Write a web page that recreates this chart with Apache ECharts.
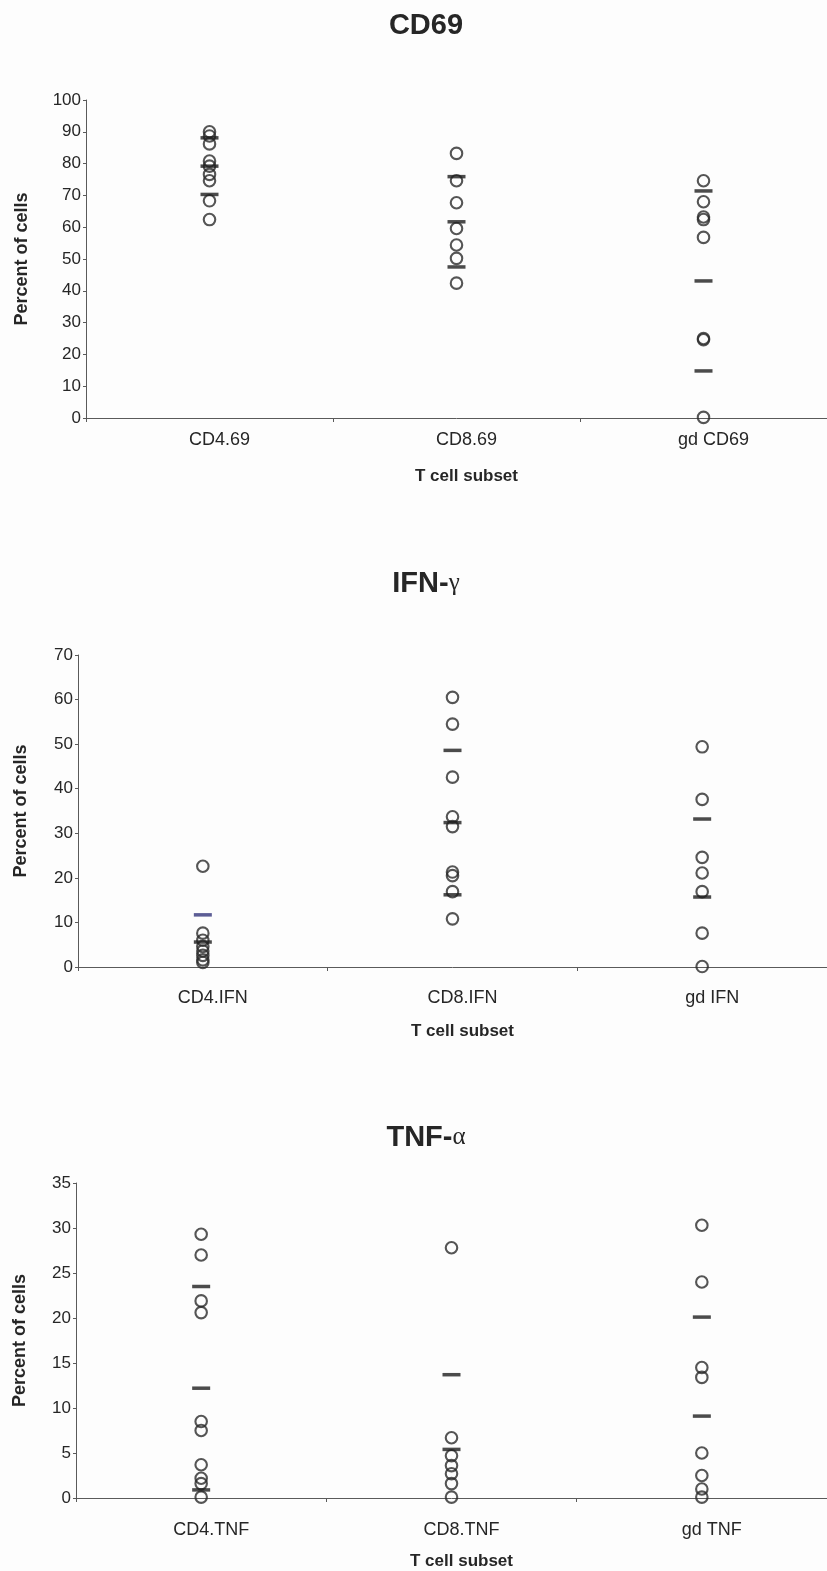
<!DOCTYPE html>
<html>
<head>
<meta charset="utf-8">
<script src="https://cdn.jsdelivr.net/npm/echarts@6/dist/echarts.min.js"></script>
<style>
  html, body { margin: 0; padding: 0; background: #fdfdfd; }
  #chart { width: 827px; height: 1571px; }
</style>
</head>
<body>
<div id="chart"></div>
<script>
// ---- CD69 ----
const cd69Categories = ['CD4.69', 'CD8.69', 'gd CD69'];
const cd69Values = [
  [90.0, 88.7, 86.2, 80.8, 79.2, 76.6, 74.6, 68.3, 62.4],
  [83.2, 74.6, 67.7, 59.6, 54.4, 50.2, 42.4],
  [74.6, 68.0, 63.2, 62.4, 56.8, 25.0, 24.6, 0.2]
];
const cd69Means = [79.2, 61.7, 43.1];
const cd69Sds = [8.9, 14.2, 28.3];
const cd69Ticks = [0, 100, 10];

// ---- IFN-gamma ----
const ifnCategories = ['CD4.IFN', 'CD8.IFN', 'gd IFN'];
const ifnValues = [
  [22.6, 7.6, 6.0, 4.6, 3.6, 2.6, 1.6, 1.0],
  [60.5, 54.5, 42.6, 33.7, 31.5, 21.3, 20.5, 16.9, 10.8],
  [49.4, 37.6, 24.6, 21.1, 16.9, 7.6, 0.1]
];
const ifnMeans = [5.6, 32.4, 15.7];
const ifnSds = [6.1, 16.2, 17.5];
const ifnTicks = [0, 70, 10];

// ---- TNF-alpha ----
const tnfCategories = ['CD4.TNF', 'CD8.TNF', 'gd TNF'];
const tnfValues = [
  [29.3, 27.0, 21.9, 20.6, 8.5, 7.5, 3.7, 2.2, 1.6, 0.1],
  [27.8, 6.7, 4.7, 3.6, 2.7, 1.6, 0.1],
  [30.3, 24.0, 14.5, 13.4, 5.0, 2.5, 1.0, 0.1]
];
const tnfMeans = [12.2, 5.4, 9.1];
const tnfSds = [11.3, 8.3, 11.0];
const tnfTicks = [0, 35, 5];

const xAxisName = 'T cell subset';
const yAxisName = 'Percent of cells';

// Layout and styling for each of the three stacked plots
const panels = [
  {
    title: '{b|CD69}', titleTop: 6,
    cats: cd69Categories, values: cd69Values, means: cd69Means, sds: cd69Sds, ticks: cd69Ticks,
    grid: { left: 86, top: 100, width: 741, height: 318 },
    labelMargin: 13, xNameGap: 50, yNameGap: 55, barColors: [null, null, null]
  },
  {
    title: '{b|IFN-}{g|\u03b3}', titleTop: 564,
    cats: ifnCategories, values: ifnValues, means: ifnMeans, sds: ifnSds, ticks: ifnTicks,
    grid: { left: 78, top: 655, width: 754, height: 312 },
    labelMargin: 22, xNameGap: 56, yNameGap: 48, barColors: ['#33357a', null, null]
  },
  {
    title: '{b|TNF-}{g|\u03b1}', titleTop: 1118,
    cats: tnfCategories, values: tnfValues, means: tnfMeans, sds: tnfSds, ticks: tnfTicks,
    grid: { left: 76, top: 1183, width: 756, height: 316 },
    labelMargin: 23, xNameGap: 55, yNameGap: 47, barColors: [null, null, null]
  }
];

const textColor = '#262626';
const axisColor = '#5a5a5a';
const sans = 'Liberation Sans, Arial, sans-serif';

const option = {
  animation: false,
  backgroundColor: '#fdfdfd',
  title: [],
  grid: [],
  xAxis: [],
  yAxis: [],
  series: []
};

panels.forEach((p, i) => {
  option.title.push({
    text: p.title,
    left: 421,
    top: p.titleTop,
    textAlign: 'center',
    textStyle: {
      rich: {
        b: { fontFamily: sans, fontWeight: 'bold', fontSize: 29, color: textColor },
        g: { fontFamily: 'Liberation Serif, DejaVu Serif, serif', fontWeight: 'normal', fontSize: 25, color: textColor }
      }
    }
  });

  option.grid.push(Object.assign({ containLabel: false }, p.grid));

  option.xAxis.push({
    type: 'category',
    gridIndex: i,
    data: p.cats,
    boundaryGap: true,
    name: xAxisName,
    nameLocation: 'middle',
    nameGap: p.xNameGap,
    nameTextStyle: { fontFamily: sans, fontWeight: 'bold', fontSize: 17, color: textColor, padding: [0, 0, 0, 20] },
    axisLine: { show: true, lineStyle: { color: axisColor, width: 1 } },
    axisTick: { show: true, length: 4, alignWithLabel: false, lineStyle: { color: axisColor } },
    axisLabel: { fontFamily: sans, fontSize: 18, color: textColor, margin: p.labelMargin, padding: [0, 0, 0, 20] },
    splitLine: { show: false }
  });

  option.yAxis.push({
    type: 'value',
    gridIndex: i,
    min: p.ticks[0],
    max: p.ticks[1],
    interval: p.ticks[2],
    name: yAxisName,
    nameLocation: 'middle',
    nameGap: p.yNameGap,
    nameTextStyle: { fontFamily: sans, fontWeight: 'bold', fontSize: 18, color: textColor },
    axisLine: { show: true, lineStyle: { color: axisColor, width: 1 } },
    axisTick: { show: true, length: 3, lineStyle: { color: axisColor } },
    axisLabel: { fontFamily: sans, fontSize: 17, color: textColor, margin: 5 },
    splitLine: { show: false }
  });

  // individual donors: open circles
  const points = [];
  p.values.forEach((vals, c) => vals.forEach(v => points.push([p.cats[c], v])));
  option.series.push({
    type: 'scatter',
    xAxisIndex: i,
    yAxisIndex: i,
    symbol: 'circle',
    symbolSize: 11.5,
    clip: false,
    data: points,
    itemStyle: { color: 'rgba(0,0,0,0)', borderColor: '#2a2a2a', borderWidth: 2.1 },
    z: 3
  });

  // group mean and mean +/- SD as short horizontal dashes
  const dashes = [];
  p.means.forEach((m, c) => {
    [m + p.sds[c], m, m - p.sds[c]].forEach((lvl, k) => {
      if (lvl < 0) return;
      const item = { value: [p.cats[c], +lvl.toFixed(2)] };
      if (k === 0 && p.barColors[c]) item.itemStyle = { color: p.barColors[c] };
      dashes.push(item);
    });
  });
  option.series.push({
    type: 'scatter',
    xAxisIndex: i,
    yAxisIndex: i,
    symbol: 'rect',
    symbolSize: [18, 3.5],
    data: dashes,
    itemStyle: { color: '#1e1e1e' },
    z: 4
  });
});

const chart = echarts.init(document.getElementById('chart'), null, { renderer: 'canvas' });
chart.setOption(option);
</script>
</body>
</html>
